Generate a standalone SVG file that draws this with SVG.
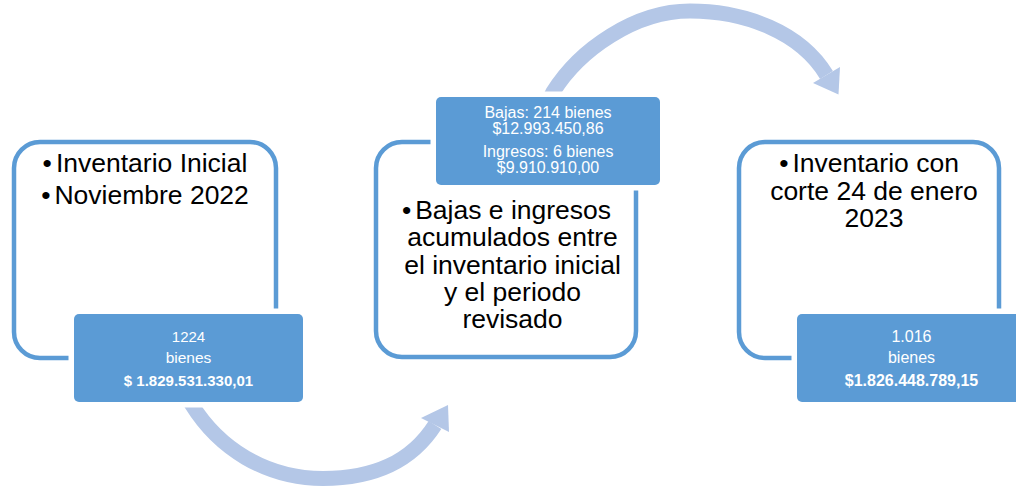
<svg xmlns="http://www.w3.org/2000/svg" width="1016" height="493" viewBox="0 0 1016 493">
<style>
.frame{fill:#fff;stroke:#5b9bd5;stroke-width:4.5}
.gap{fill:#fff}
.tag{fill:#5b9bd5}
.main{font-family:"Liberation Sans",Arial,sans-serif;font-size:26.5px;fill:#000;text-anchor:middle}
.small{font-family:"Liberation Sans",Arial,sans-serif;fill:#fff;text-anchor:middle}
.arc{fill:none;stroke:#b4c7e7;stroke-width:15}
.head{fill:#b4c7e7}
</style>
<rect width="1016" height="493" fill="#fff"/>
<g id="connectors">
<path class="arc" d="M187.5 398 L192 405 C218.5 447.5 265 478.5 323 478.5 C373 478.5 410.7 462.8 435 425"/>
<polygon class="head" points="421,418 449,432 448,405"/>
<path class="arc" d="M549 100 L553 92 C579.5 49.5 635 11 690 11 C745 11 800.5 32 826.5 75"/>
<polygon class="head" points="813,83 840,67 838.5,94.5"/>
</g>
<g id="node1">
<rect class="frame" x="14" y="142" width="262" height="216" rx="26"/>
<text class="main" x="145" y="172">•<tspan dx="4">Inventario Inicial</tspan></text>
<text class="main" x="145" y="204">•<tspan dx="4">Noviembre 2022</tspan></text>
<rect class="gap" x="68.5" y="308.5" width="240" height="99" rx="8"/>
<rect class="tag" x="74" y="314" width="229" height="88" rx="5"/>
<text class="small" x="188.5" y="341.7" font-size="15">1224</text>
<text class="small" x="188.5" y="362.7" font-size="15.5">bienes</text>
<text class="small" x="188.5" y="386" font-size="15" font-weight="bold">$ 1.829.531.330,01</text>
</g>
<g id="node2">
<rect class="frame" x="376" y="142" width="260" height="215" rx="26"/>
<text class="main" x="506.5" y="219.3">•<tspan dx="4">Bajas e ingresos</tspan></text>
<text class="main" x="512.5" y="246.4">acumulados entre</text>
<text class="main" x="512.5" y="273.5">el inventario inicial</text>
<text class="main" x="512.5" y="300.6">y el periodo</text>
<text class="main" x="512.5" y="327.7">revisado</text>
<rect class="gap" x="430.5" y="91.5" width="235" height="99" rx="8"/>
<rect class="tag" x="436" y="97" width="224" height="88" rx="5"/>
<text class="small" x="548" y="118.3" font-size="16">Bajas: 214 bienes</text>
<text class="small" x="548" y="134" font-size="16">$12.993.450,86</text>
<text class="small" x="548" y="156.7" font-size="16">Ingresos: 6 bienes</text>
<text class="small" x="548" y="172.7" font-size="16">$9.910.910,00</text>
</g>
<g id="node3">
<rect class="frame" x="739" y="142" width="260" height="216" rx="26"/>
<text class="main" x="869" y="172">•<tspan dx="4">Inventario con</tspan></text>
<text class="main" x="874" y="199.5">corte 24 de enero</text>
<text class="main" x="874" y="227">2023</text>
<rect class="gap" x="791.5" y="308.5" width="240" height="99" rx="8"/>
<rect class="tag" x="797" y="314" width="229" height="88" rx="5"/>
<text class="small" x="911.5" y="341.7" font-size="16">1.016</text>
<text class="small" x="911.5" y="362.7" font-size="16">bienes</text>
<text class="small" x="911.5" y="386" font-size="16" font-weight="bold">$1.826.448.789,15</text>
</g>
</svg>
